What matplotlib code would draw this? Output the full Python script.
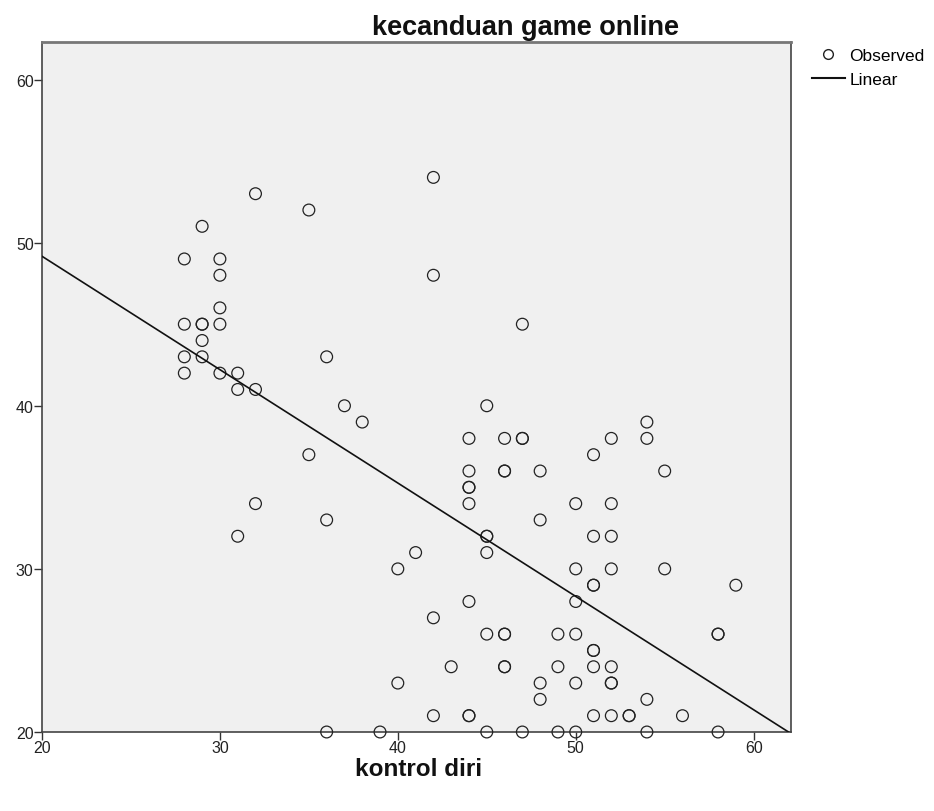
import numpy as np
import matplotlib
matplotlib.use("Agg")
import matplotlib.pyplot as plt
from matplotlib.lines import Line2D

plt.rcParams['font.family'] = ['Liberation Sans', 'DejaVu Sans']

# kontrol diri (x) and kecanduan game online (y)
kontrol_diri = (
    [28]*4 + [29]*5 + [30]*5 + [31]*3 + [32]*3 + [35]*2 + [36]*3 + [37] + [38] + [39] +
    [40]*2 + [41] + [42]*4 + [43] + [44]*8 + [45]*6 + [46]*7 + [47]*4 + [48]*4 + [49]*3 +
    [50]*6 + [51]*8 + [52]*8 + [53]*2 + [54]*4 + [55]*2 + [56] + [58]*3 + [59]
)
kecanduan = [
    49, 45, 43, 42,
    51, 45, 45, 44, 43,
    49, 48, 46, 45, 42,
    42, 41, 32,
    53, 41, 34,
    52, 37,
    43, 33, 20,
    40,
    39,
    20,
    30, 23,
    31,
    54, 48, 27, 21,
    24,
    38, 36, 35, 35, 34, 28, 21, 21,
    40, 32, 32, 31, 26, 20,
    38, 36, 36, 26, 26, 24, 24,
    45, 38, 38, 20,
    36, 33, 23, 22,
    26, 24, 20,
    34, 30, 28, 26, 23, 20,
    37, 32, 29, 29, 25, 25, 24, 21,
    38, 34, 32, 30, 24, 23, 23, 21,
    21, 21,
    39, 38, 22, 20,
    36, 30,
    21,
    26, 26, 20,
    29,
]

x_ticks = [20, 30, 40, 50, 60]
y_ticks = [20, 30, 40, 50, 60]
title = "kecanduan game online"
xlabel = "kontrol diri"

x = np.array(kontrol_diri, dtype=float)
y = np.array(kecanduan, dtype=float)

fig = plt.figure(figsize=(9.34, 8.12), dpi=100)
ax = fig.add_axes([42/934, (812-733)/812, (791-42)/934, (733-43)/812])
ax.set_facecolor('#F0F0F0')

ax.scatter(x, y, s=72, facecolors='none', edgecolors='#222222', linewidths=0.9, zorder=3, clip_on=False)

slope, intercept = np.polyfit(x, y, 1)
xl = np.array([20, 62.1])
ax.plot(xl, intercept + slope*xl, color='#111111', lw=1.2, zorder=4)

ax.set_xlim(20, 62.1)
ax.set_ylim(20, 62.3)
ax.set_xticks(x_ticks)
ax.set_yticks(y_ticks)
ax.tick_params(direction='out', length=6, width=1, colors='#333333', labelsize=11.5, labelcolor='#222222', pad=0)
for s in ax.spines.values():
    s.set_color('#444444')
    s.set_linewidth(1.2)
ax.spines['top'].set_color('#777777')
ax.spines['top'].set_linewidth(2)

fig.text(526/934, 1-28/812, title, ha='center', va='center', fontsize=19.5, fontweight='bold', color='#111111')
fig.text(419/934, 1-770/812, xlabel, ha='center', va='center', fontsize=17.5, fontweight='bold', color='#111111')

handles = [Line2D([], [], marker='o', ls='none', mfc='none', mec='#222222', ms=7, mew=1.0),
           Line2D([], [], color='#111111', lw=1.5)]
fig.legend(handles, ['Observed', 'Linear'], loc='upper left', bbox_to_anchor=(812/934, 1-49/812),
           frameon=False, fontsize=12.5, handlelength=1.9, handletextpad=0.25, labelspacing=0.5,
           borderpad=0, borderaxespad=0)

fig.savefig('out.png', dpi=100)
